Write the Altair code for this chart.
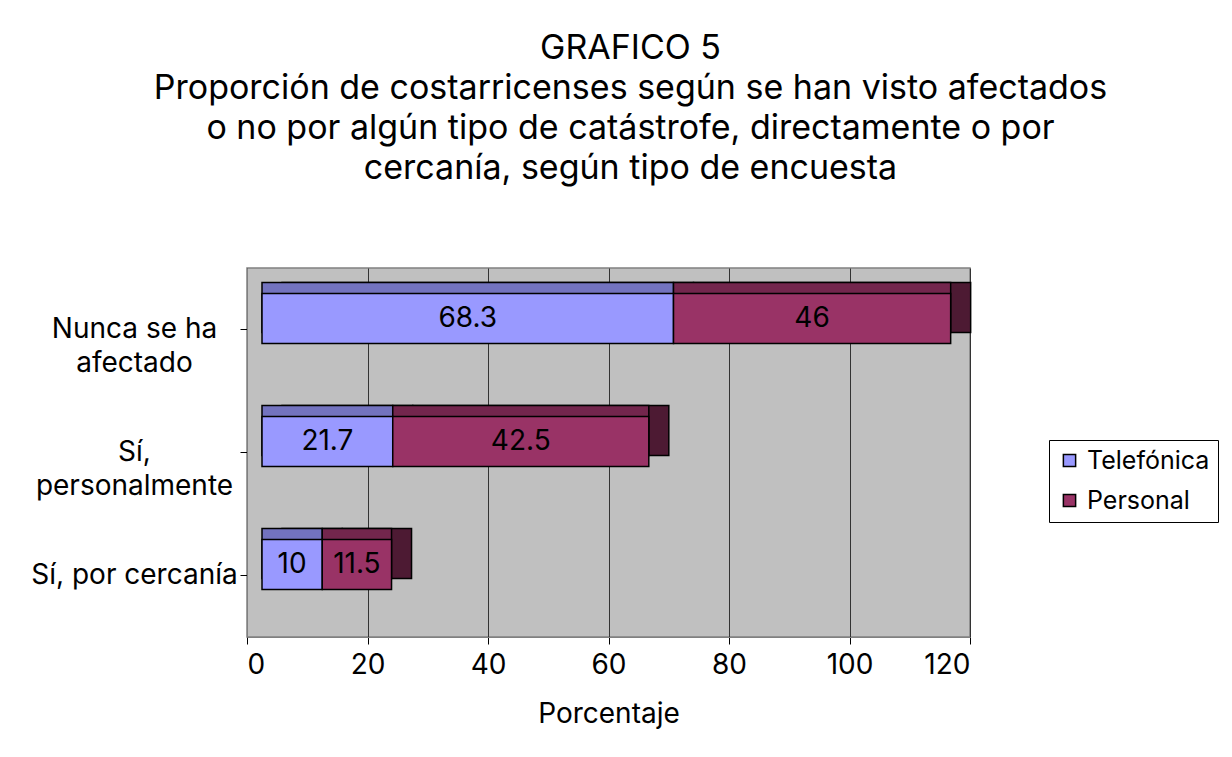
import altair as alt
import pandas as pd

categorias = ["Nunca se ha afectado", "Sí, personalmente", "Sí, por cercanía"]
series = ["Telefónica", "Personal"]
telefonica = [68.3, 21.7, 10]
personal = [46, 42.5, 11.5]
x_ticks = [0, 20, 40, 60, 80, 100, 120]

rows = []
for i, c in enumerate(categorias):
    rows.append({"cat": c, "serie": series[0], "ord": 0, "valor": telefonica[i]})
    rows.append({"cat": c, "serie": series[1], "ord": 1, "valor": personal[i]})
df = pd.DataFrame(rows)

FONT = "Inter"
FRONT = ["#9999FF", "#993366"]
TOP = ["#7373BF", "#73264D"]
SIDE = ["#4D4D80", "#4D1A33"]

base = alt.Chart(df).transform_stack(
    stack="valor", as_=["x0", "x1"], groupby=["cat"], sort=[{"field": "ord", "order": "ascending"}]
).transform_calculate(mid="(datum.x0 + datum.x1) / 2")

xenc = alt.X(
    "x0:Q",
    stack=None,
    scale=alt.Scale(domain=[0, 120], nice=False),
    axis=alt.Axis(values=x_ticks, title="Porcentaje", grid=True),
)
yenc = alt.Y(
    "cat:N",
    sort=categorias,
    scale=alt.Scale(paddingInner=0, paddingOuter=0),
    axis=alt.Axis(
        title=None,
        labelExpr="datum.label == 'Nunca se ha afectado' ? ['Nunca se ha', 'afectado'] : "
                  "datum.label == 'Sí, personalmente' ? ['Sí,', 'personalmente'] : datum.label",
    ),
)
is_tel = "datum.serie == 'Telefónica'"

side = base.mark_bar(size=50, xOffset=35, x2Offset=35, yOffset=-22,
                     stroke="black", strokeWidth=1.5).encode(
    x=xenc, x2="x1:Q", y=yenc,
    fill=alt.condition(is_tel, alt.value(SIDE[0]), alt.value(SIDE[1])),
)
top = base.mark_bar(size=50, xOffset=15, x2Offset=15, yOffset=-22,
                    stroke="black", strokeWidth=1.5).encode(
    x=xenc, x2="x1:Q", y=yenc,
    fill=alt.condition(is_tel, alt.value(TOP[0]), alt.value(TOP[1])),
)
front = base.mark_bar(size=50, xOffset=15, x2Offset=15, yOffset=-11,
                      stroke="black", strokeWidth=1.5, opacity=1).encode(
    x=xenc, x2="x1:Q", y=yenc,
    color=alt.Color(
        "serie:N",
        sort=series,
        scale=alt.Scale(domain=series, range=FRONT),
        legend=alt.Legend(
            title=None, orient="none", legendX=802, legendY=172,
            fillColor="white", strokeColor="black", padding=8,
            symbolType="square", symbolSize=150, symbolStrokeColor="black",
            symbolStrokeWidth=1.5, symbolOpacity=1, labelLimit=300, labelOffset=5,
            labelFont=FONT, labelFontSize=25, labelColor="black", rowPadding=14,
        ),
    ),
)
labels = base.mark_text(xOffset=15, yOffset=-11, fontSize=28, font=FONT, color="black").encode(
    x=alt.X("mid:Q", stack=None), y=alt.Y("cat:N", sort=categorias), text=alt.Text("valor:Q"),
)

chart = alt.layer(side, top, front, labels).properties(
    width=723,
    height=369,
    background="white",
    autosize=alt.AutoSizeParams(type="none"),
    padding={"left": 239, "top": 260, "right": 254, "bottom": 112},
    title=alt.Title(
        ["GRAFICO 5",
         "Proporción de costarricenses según se han visto afectados",
         "o no por algún tipo de catástrofe, directamente o por",
         "cercanía, según tipo de encuesta"],
        font=FONT, fontSize=34, fontWeight="normal", lineHeight=40,
        anchor="middle", dx=22, offset=82, color="black",
    ),
).configure_view(
    fill="#C0C0C0", stroke="#808080", strokeWidth=1.5
).configure_axis(
    labelFont=FONT, labelFontSize=28, labelColor="black", labelLimit=400,
    titleFont=FONT, titleFontSize=28, titleFontWeight="normal", titleColor="black",
    domainColor="#808080", tickColor="black", tickSize=7, gridColor="#333333", gridWidth=1,
).configure_axisX(
    labelPadding=7, titlePadding=21,
).configure_axisY(
    labelAlign="center", labelPadding=106, labelLineHeight=34, grid=False,
)

chart.save("out.html", embed_options={"renderer": "svg", "actions": False})
